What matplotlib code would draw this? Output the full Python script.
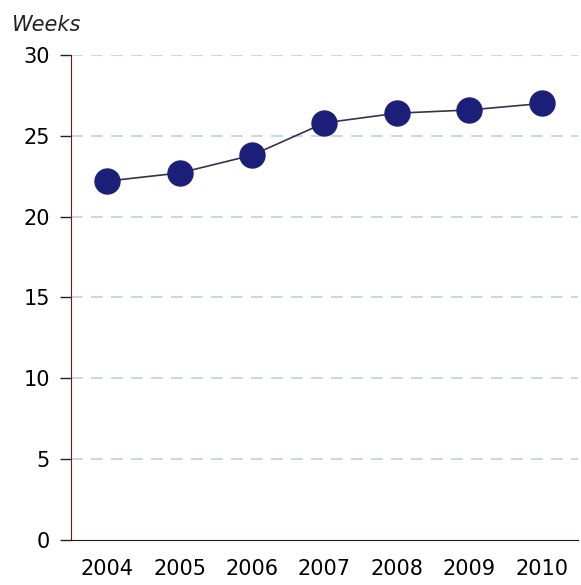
import matplotlib.pyplot as plt

years = ['2004', '2005', '2006', '2007', '2008', '2009', '2010']
weeks = [22.2, 22.7, 23.8, 25.8, 26.4, 26.6, 27.0]
yticks = [0, 5, 10, 15, 20, 25, 30]

fig = plt.figure(figsize=(5.81, 5.85), dpi=100)
ax = fig.add_axes([0.122, 0.077, 0.873, 0.829])

x = range(len(years))
ax.plot(x, weeks, color='#333350', linewidth=1.2, zorder=2)
ax.plot(x, weeks, 'o', color='#1c1f78', markersize=18, zorder=3)

ax.set_xlim(-0.5, len(years) - 0.5)
ax.set_ylim(0, 30)
ax.set_yticks(yticks)
ax.set_xticks(list(x))
ax.set_xticklabels(years)

for y in yticks[1:]:
    ax.axhline(y, color='#b5d4e4', linestyle=(0, (7, 5)), linewidth=1.2, zorder=1)

for s in ['top', 'right']:
    ax.spines[s].set_visible(False)
ax.spines['left'].set_color('#6a1e12')
ax.spines['bottom'].set_color('#2a1410')
ax.tick_params(axis='y', length=8, width=1, color='#222222', labelsize=15, pad=7)
ax.tick_params(axis='x', length=0, labelsize=15, pad=14)

fig.text(0.02, 0.958, 'Weeks', fontsize=15, style='italic', color='#222222', va='center')

fig.savefig('out.png', dpi=100)
